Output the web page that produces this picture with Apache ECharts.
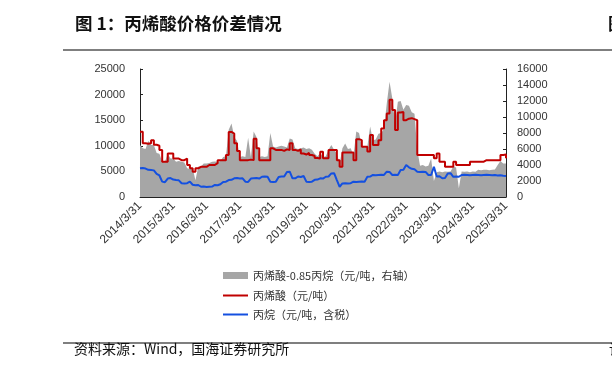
<!DOCTYPE html>
<html>
<head>
<meta charset="utf-8">
<script src="https://cdn.jsdelivr.net/npm/echarts@6/dist/echarts.min.js"></script>
<style>html,body{margin:0;padding:0;background:#fff;}#c{width:612px;height:379px;}</style>
</head>
<body>
<div id="c"></div>
<script>
// Month index 0 = 2014/3/31, 132 = 2025/3/31
const tickLabels = ['2014/3/31','2015/3/31','2016/3/31','2017/3/31','2018/3/31','2019/3/31','2020/3/31','2021/3/31','2022/3/31','2023/3/31','2024/3/31','2025/3/31'];
const seriesNames = ['丙烯酸-0.85丙烷（元/吨，右轴）','丙烯酸（元/吨）','丙烷（元/吨，含税）'];

// 丙烯酸-0.85丙烷 spread (right axis), monthly
const spread = [6500,6100,6000,7000,6500,6500,5500,5400,4400,4400,5400,4800,4800,4400,4500,4400,4300,3600,3500,3600,
2100,3800,3800,4200,4200,4250,4400,4450,4400,4500,5000,5100,8400,9200,7500,7000,5000,5100,5000,7400,
5000,8200,7500,5000,5100,5000,5100,8000,6300,6200,6300,6400,6300,6200,7300,7200,6100,6000,6100,6200,
6000,6100,5900,5400,5100,5500,5000,5100,5900,6500,5900,5400,4200,6100,6700,6000,6100,5200,8200,8000,
6300,6200,6300,8800,7100,7200,7900,8000,8500,11700,14400,12300,9200,11900,12000,10900,11500,11400,10600,10400,
5900,3900,4000,3800,3900,4800,2000,3100,3200,3100,3200,3150,3200,3800,3700,1100,3200,3150,3200,3100,
3200,3150,3400,3350,3400,3400,3350,3400,3450,4000,4500,4200,4200];

// 丙烯酸 price (left axis), monthly
const acrylic = [12750,10500,10400,10500,11100,10200,10000,9200,6900,6900,8500,8500,7500,7500,7200,7200,7500,6250,5600,4950,
5600,5900,5900,5900,6250,6250,6250,6600,7200,7200,7200,8200,12700,12400,10500,9000,7200,7200,7200,7300,
7200,11400,9500,7200,7200,7200,7200,9500,9200,9200,9200,9000,9300,9200,10500,9200,9000,9300,8500,8300,
8600,8200,8000,7600,7500,8850,7550,7550,9200,9200,9200,7200,5900,8700,8700,8700,8700,7200,11300,11100,
9800,9800,8900,12100,10150,10150,11100,13400,15000,16300,19000,17000,13100,16500,16600,15000,15300,15400,15200,15000,
8200,8200,8200,8200,8200,8200,7550,8500,6900,6900,5900,5900,5900,6900,6250,6250,6250,6250,6250,6900,
6900,6900,6900,6900,7200,7200,7200,7200,7200,7200,8200,8300,7550];

// 丙烷 price incl. tax (left axis), monthly
const propane = [5600,5650,5550,5300,5250,5200,4500,4200,3000,2900,3600,3700,3400,3300,3250,2700,2650,2700,3000,2400,
2300,2350,2000,2050,1950,2000,2050,2350,2300,2500,2950,3000,3300,3350,3650,3700,3600,3650,3000,2950,
3600,3650,3700,3600,3950,4000,3950,3000,2950,3000,3900,4000,4000,4900,4950,3650,3650,4000,3900,4100,
3000,2950,3000,3350,3400,3650,3600,3950,4000,4600,4650,3300,2000,2650,2700,2650,2700,3000,2950,3000,
3050,3000,3950,4000,4300,4250,4300,4350,4300,4950,4900,4300,4350,4300,5250,5300,6250,5800,5500,5400,
4950,4900,4950,4900,4300,4300,5900,4000,4050,3650,3700,4600,4650,3950,4000,3950,4300,4350,4300,4250,
4300,4350,4300,4250,4300,4350,4300,4250,4300,4200,4250,4150,4100];

const toXY = arr => arr.map((v, i) => [i, v]);
const latin = 'Liberation Sans, Arial, sans-serif';
const cjk = 'Noto Sans CJK SC, sans-serif';
const yFont = {fontFamily: latin, fontSize: 11, color: '#333', formatter: v => String(v)};

const chart = echarts.init(document.getElementById('c'), null, {renderer: 'canvas'});
chart.setOption({
  animation: false,
  backgroundColor: '#fff',
  grid: {left: 140, right: 106, top: 69, bottom: 182, containLabel: false},
  graphic: [
    {type: 'text', left: 75, top: 15, style: {text: '图 1：丙烯酸价格价差情况', font: 'bold 17.5px ' + cjk, fill: '#111'}},
    {type: 'text', left: 608, top: 15, style: {text: '图', font: 'bold 17px ' + cjk, fill: '#111'}},
    {type: 'rect', shape: {x: 63, y: 49, width: 549, height: 2}, style: {fill: '#7f7f7f'}},
    {type: 'rect', shape: {x: 63, y: 342.5, width: 549, height: 1}, style: {fill: '#000'}},
    {type: 'text', left: 74, top: 342, style: {text: '资料来源：Wind，国海证券研究所', font: '14px ' + cjk, fill: '#111'}},
    {type: 'text', left: 609, top: 342, style: {text: '请', font: '14px ' + cjk, fill: '#111'}}
  ],
  legend: [
    {data: [seriesNames[0]], left: 218, top: 265, orient: 'vertical', icon: 'rect', itemWidth: 25, itemHeight: 7, itemGap: 0,
     textStyle: {fontFamily: cjk, fontSize: 11, color: '#333'}},
    {data: [seriesNames[1]], left: 218, top: 285, orient: 'vertical', icon: 'rect', itemWidth: 25, itemHeight: 2, itemGap: 0,
     textStyle: {fontFamily: cjk, fontSize: 11, color: '#333'}},
    {data: [seriesNames[2]], left: 218, top: 304, orient: 'vertical', icon: 'rect', itemWidth: 25, itemHeight: 2, itemGap: 0,
     textStyle: {fontFamily: cjk, fontSize: 11, color: '#333'}}
  ],
  xAxis: {
    type: 'value', min: 0, max: 132, interval: 12,
    axisLine: {lineStyle: {color: '#222', width: 1}},
    axisTick: {inside: true, length: 4, lineStyle: {color: '#222'}},
    splitLine: {show: false},
    axisLabel: {rotate: 45, margin: 7, fontFamily: latin, fontSize: 12, color: '#333', formatter: v => tickLabels[Math.round(v / 12)]}
  },
  yAxis: [
    {type: 'value', min: 0, max: 25000, interval: 5000, position: 'left',
     axisLine: {show: true, lineStyle: {color: '#222'}},
     axisTick: {show: true, inside: true, length: 3, lineStyle: {color: '#222'}},
     splitLine: {show: false},
     axisLabel: Object.assign({margin: 15}, yFont)},
    {type: 'value', min: 0, max: 16000, interval: 2000, position: 'right',
     axisLine: {show: true, lineStyle: {color: '#222'}},
     axisTick: {show: true, inside: true, length: 3, lineStyle: {color: '#222'}},
     splitLine: {show: false},
     axisLabel: Object.assign({margin: 11}, yFont)}
  ],
  series: [
    {name: seriesNames[0], type: 'line', yAxisIndex: 1, data: toXY(spread), showSymbol: false, symbol: 'none',
     lineStyle: {width: 0, color: '#a6a6a6'}, itemStyle: {color: '#a6a6a6'}, areaStyle: {color: '#a6a6a6', opacity: 1}, z: 1},
    {name: seriesNames[1], type: 'line', yAxisIndex: 0, data: toXY(acrylic), step: 'end', showSymbol: false, symbol: 'none',
     lineStyle: {width: 2, color: '#c00000'}, itemStyle: {color: '#c00000'}, z: 3},
    {name: seriesNames[2], type: 'line', yAxisIndex: 0, data: toXY(propane), showSymbol: false, symbol: 'none',
     lineStyle: {width: 2, color: '#1450e0'}, itemStyle: {color: '#1450e0'}, z: 4}
  ]
});
</script>
</body>
</html>
